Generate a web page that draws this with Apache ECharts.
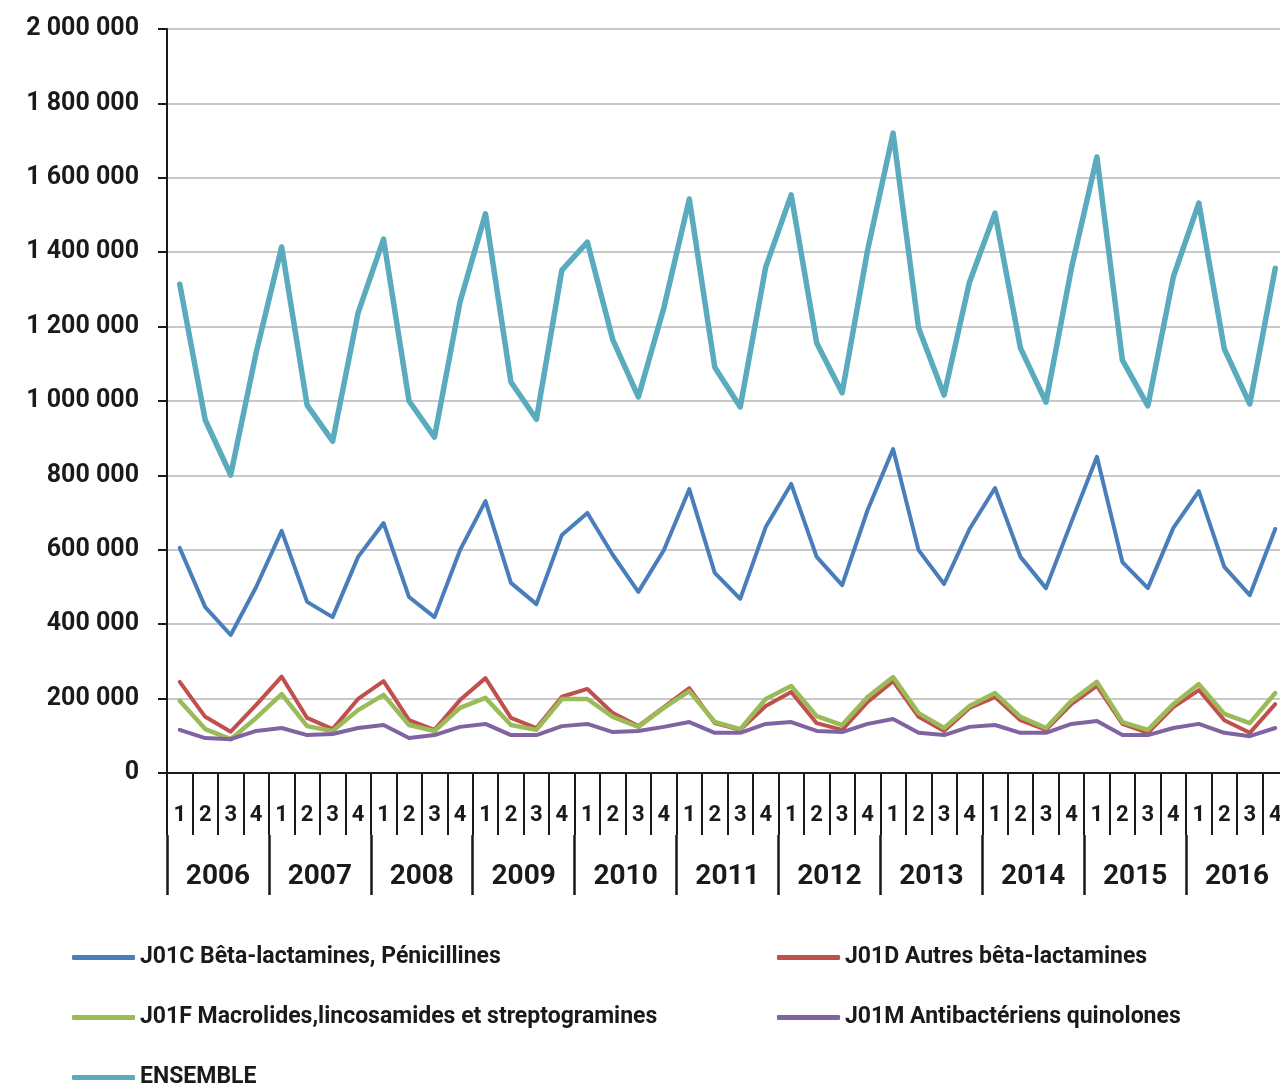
<!DOCTYPE html>
<html>
<head>
<meta charset="utf-8">
<script src="https://cdn.jsdelivr.net/npm/echarts@6/dist/echarts.min.js"></script>
<style>
html,body{margin:0;padding:0;background:#fff;}
#chart{width:1280px;height:1086px;}
</style>
</head>
<body>
<div id="chart"></div>
<script>
var years = ['2006','2007','2008','2009','2010','2011','2012','2013','2014','2015','2016'];
var quarterNames = ['1','2','3','4'];
var seriesNames = ['J01C Bêta-lactamines, Pénicillines','J01D Autres bêta-lactamines','J01F Macrolides,lincosamides et streptogramines','J01M Antibactériens quinolones','ENSEMBLE'];

// values in thousands
var j01c = [605,446,371,500, 651,460,419,581, 672,473,419,599, 731,511,454,640, 699,586,487,599, 763,538,468,661, 777,581,505,707, 871,599,508,656, 766,581,497,675, 850,567,497,659, 758,554,478,656];
var j01d = [245,151,111,183, 259,148,118,199, 247,142,116,196, 255,148,121,205, 226,161,126,177, 228,134,116,180, 218,134,116,191, 247,151,113,175, 204,142,116,185, 234,132,108,177, 223,142,108,185];
var j01f = [194,118,91,148, 212,126,113,169, 210,129,113,175, 202,129,116,199, 199,151,124,175, 220,137,118,199, 234,153,129,204, 258,161,121,180, 215,151,121,194, 245,137,116,185, 239,159,134,215];
var j01m = [116,94,91,113, 121,102,105,121, 129,94,102,124, 132,102,102,126, 132,110,113,124, 137,108,108,132, 137,113,110,132, 145,108,102,124, 129,108,108,132, 140,102,102,121, 132,108,99,121];
var ensemble = [1314,949,801,1130, 1414,989,892,1237, 1435,1000,903,1266, 1503,1051,951,1352, 1427,1164,1011,1250, 1543,1091,984,1360, 1554,1156,1022,1406, 1720,1196,1016,1320, 1505,1142,997,1357, 1656,1110,987,1334, 1532,1140,992,1357];

var colors = ['#4a7ebb','#c0504d','#9bbb59','#8064a2','#5aabbd'];
var widths = [4,4,4.5,4,5.5];
var dataSets = [j01c,j01d,j01f,j01m,ensemble];

var quarters = [];
years.forEach(function(y){ quarterNames.forEach(function(q){ quarters.push(q); }); });

function fmt(v){
  var s = String(Math.round(v));
  return s.replace(/\B(?=(\d{3})+(?!\d))/g, ' ');
}

var font = 'Roboto';
var txt = '#1a1a1a';

var series = seriesNames.map(function(n,i){
  return {
    name:n, type:'line', xAxisIndex:0, yAxisIndex:0,
    data: dataSets[i].map(function(v){return v*1000;}),
    symbol:'none', smooth:false, animation:false,
    lineStyle:{color:colors[i], width:widths[i], cap:'round', join:'round'},
    itemStyle:{color:colors[i]}
  };
});

// legend positions (left, top) per series
var legendPos = [[72,946],[777,946],[72,1006],[777,1006],[72,1066]];
var legends = seriesNames.map(function(n,i){
  return {
    orient:'horizontal', left:legendPos[i][0], top:legendPos[i][1], padding:0,
    itemWidth:63, itemHeight:5, icon:'roundRect', data:[n],
    textStyle:{fontFamily:font, fontWeight:'bold', fontSize:23, color:txt, lineHeight:20},
    selectedMode:false
  };
});

var option = {
  animation:false,
  backgroundColor:'#fff',
  grid:{left:167, top:29, width:1121, bottom:313, containLabel:false, outerBoundsMode:'none'},
  legend:legends,
  xAxis:[
    {
      type:'category', data:quarters, position:'bottom', boundaryGap:true,
      axisLine:{show:true, lineStyle:{color:'#1a1a1a', width:2}},
      axisTick:{show:true, interval:0, length:62, lineStyle:{color:'#1a1a1a', width:2}},
      axisLabel:{interval:0, margin:31, fontFamily:font, fontWeight:'bold', fontSize:22, color:txt},
      splitLine:{show:false}
    },
    {
      type:'category', data:years, position:'bottom', offset:62, boundaryGap:true,
      axisLine:{show:false},
      axisTick:{show:true, interval:0, length:60, lineStyle:{color:'#1a1a1a', width:2.5}},
      axisLabel:{interval:0, margin:28, fontFamily:font, fontWeight:'bold', fontSize:28, color:txt},
      splitLine:{show:false}
    }
  ],
  yAxis:{
    type:'value', min:0, max:2000000, interval:200000,
    axisLine:{show:true, lineStyle:{color:'#1a1a1a', width:2}},
    axisTick:{show:true, length:9, lineStyle:{color:'#1a1a1a', width:2}},
    axisLabel:{margin:28, fontFamily:font, fontWeight:'bold', fontSize:25, color:txt, formatter:fmt},
    splitLine:{show:true, lineStyle:{color:'#c8c8c8', width:2}}
  },
  series:series
};

var chart = echarts.init(document.getElementById('chart'), null, {renderer:'canvas'});
chart.setOption(option);
</script>
</body>
</html>
